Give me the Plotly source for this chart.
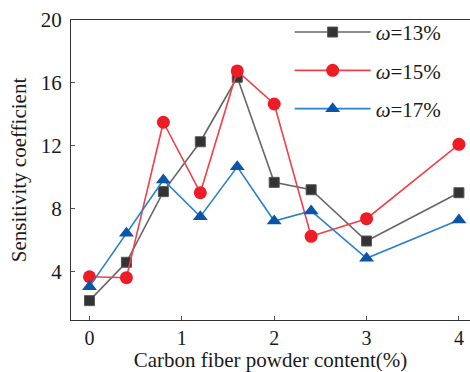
import plotly.graph_objects as go

x_content = [0, 0.4, 0.8, 1.2, 1.6, 2, 2.4, 3, 4]
s13 = [2.16, 4.6, 9.09, 12.26, 16.36, 9.68, 9.21, 5.95, 9.02]
s15 = [3.68, 3.62, 13.5, 9.02, 16.76, 14.66, 6.25, 7.37, 12.1]
s17 = [3.05, 6.44, 9.83, 7.5, 10.67, 7.22, 7.86, 4.85, 7.29]
names = ["<i>ω</i>=13%", "<i>ω</i>=15%", "<i>ω</i>=17%"]

FONT = "Liberation Serif, Tinos, Times New Roman, serif"

fig = go.Figure()
fig.add_trace(go.Scatter(x=x_content, y=s13, name=names[0], mode="lines+markers",
                         legendgroup="a",
                         line=dict(color="#666666", width=1.6),
                         marker=dict(symbol="square", size=10, color="#333333",
                                     line=dict(color="#555555", width=1))))
fig.add_trace(go.Scatter(x=x_content, y=s15, name=names[1], mode="lines+markers",
                         legendgroup="b",
                         line=dict(color="#f0404a", width=1.6),
                         marker=dict(symbol="circle", size=13, color="#ee1c25")))
fig.add_trace(go.Scatter(x=x_content, y=s17, name=names[2], mode="lines+markers",
                         legendgroup="c",
                         line=dict(color="#2a80cc", width=1.6),
                         marker=dict(symbol="triangle-up", size=13, color="#0a55a8")))

fig.update_layout(
    width=470, height=372,
    margin=dict(l=71, r=0, t=20, b=52),
    paper_bgcolor="white", plot_bgcolor="white",
    font=dict(family=FONT, size=20, color="#1a1a1a"),
    showlegend=True,
    legend=dict(x=0.548, y=1.027, xanchor="left", yanchor="top",
                bgcolor="rgba(0,0,0,0)", itemwidth=76,
                font=dict(family=FONT, size=21, color="#1a1a1a"), tracegroupgap=8),
)
fig.update_xaxes(range=[-0.2, 4.12], tickvals=[0, 1, 2, 3, 4],
                 showgrid=False, zeroline=False,
                 showline=True, linecolor="#333333", linewidth=1, mirror=True,
                 ticks="inside", ticklen=4, tickcolor="#555555",
                 tickfont=dict(family=FONT, size=20),
                 title=dict(text="Carbon fiber powder content(%)", standoff=5,
                            font=dict(family=FONT, size=21)))
fig.update_yaxes(range=[0.93, 20], tickvals=[4, 8, 12, 16, 20],
                 showgrid=False, zeroline=False,
                 showline=True, linecolor="#333333", linewidth=1,
                 ticks="inside", ticklen=4, tickcolor="#555555",
                 ticklabelstandoff=4,
                 tickfont=dict(family=FONT, size=21),
                 title=dict(text="Sensitivity coefficient", standoff=8,
                            font=dict(family=FONT, size=21)))

fig.write_html("out.html", config={"displayModeBar": False},
               post_script="document.body.style.margin='0';document.body.style.overflow='hidden';")
